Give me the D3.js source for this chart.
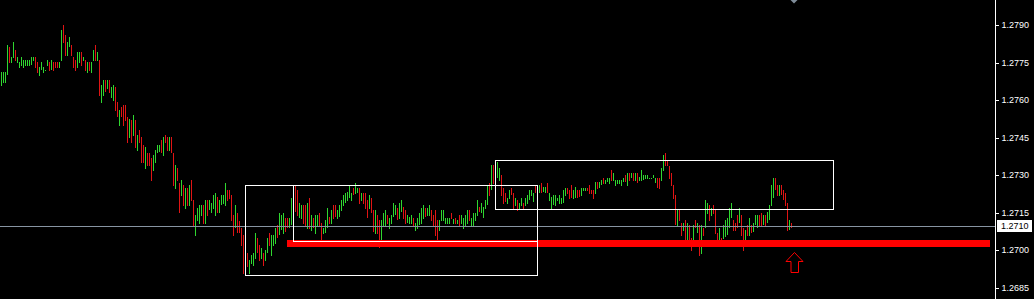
<!DOCTYPE html>
<html>
<head>
<meta charset="utf-8">
<script src="https://cdn.jsdelivr.net/npm/d3@7"></script>
<style>
  body { margin: 0; background: #000; }
  svg { display: block; }
</style>
</head>
<body>
<div id="chart"></div>
<script>
"use strict";

// bar data, oldest first (high / low / 1 = up bar, 0 = down bar)
var highs = [
  1.27713,1.27713,1.27713,1.27820,1.27811,1.27773,1.27832,1.27800,1.27771,1.27753,
  1.27771,1.27760,1.27760,1.27760,1.27760,1.27771,1.27771,1.27771,1.27753,1.27733,
  1.27753,1.27733,1.27720,1.27760,1.27753,1.27760,1.27753,1.27753,1.27753,1.27753,
  1.27880,1.27900,1.27860,1.27832,1.27853,1.27820,1.27771,1.27760,1.27791,1.27791,
  1.27791,1.27771,1.27760,1.27753,1.27753,1.27753,1.27800,1.27820,1.27791,1.27760,
  1.27660,1.27680,1.27680,1.27680,1.27680,1.27653,1.27660,1.27653,1.27593,1.27560,
  1.27571,1.27580,1.27580,1.27533,1.27523,1.27520,1.27540,1.27520,1.27460,1.27480,
  1.27451,1.27420,1.27413,1.27389,1.27389,1.27367,1.27380,1.27400,1.27420,1.27420,
  1.27440,1.27451,1.27460,1.27451,1.27451,1.27451,1.27387,1.27340,1.27327,1.27267,
  1.27280,1.27260,1.27247,1.27247,1.27260,1.27280,1.27200,1.27140,1.27167,1.27180,
  1.27180,1.27180,1.27200,1.27200,1.27200,1.27187,1.27220,1.27227,1.27213,1.27200,
  1.27220,1.27220,1.27267,1.27240,1.27240,1.27220,1.27140,1.27180,1.27147,1.27117,
  1.27087,1.27060,1.27000,1.26987,1.26960,1.26980,1.26987,1.27067,1.27047,1.27020,
  1.27007,1.26987,1.27000,1.27047,1.27067,1.27060,1.27060,1.27087,1.27100,1.27147,
  1.27140,1.27147,1.27127,1.27127,1.27127,1.27207,1.27240,1.27256,1.27240,1.27187,
  1.27180,1.27180,1.27180,1.27187,1.27207,1.27140,1.27127,1.27140,1.27140,1.27149,
  1.27107,1.27087,1.27120,1.27167,1.27133,1.27160,1.27180,1.27180,1.27160,1.27180,
  1.27200,1.27220,1.27227,1.27233,1.27260,1.27229,1.27247,1.27269,1.27247,1.27247,
  1.27229,1.27229,1.27227,1.27200,1.27220,1.27207,1.27160,1.27160,1.27140,1.27120,
  1.27120,1.27149,1.27160,1.27140,1.27127,1.27140,1.27189,1.27180,1.27167,1.27189,
  1.27200,1.27171,1.27160,1.27140,1.27133,1.27140,1.27127,1.27107,1.27127,1.27149,
  1.27167,1.27180,1.27167,1.27167,1.27180,1.27160,1.27140,1.27160,1.27120,1.27120,
  1.27160,1.27160,1.27127,1.27127,1.27127,1.27147,1.27123,1.27127,1.27120,1.27140,
  1.27140,1.27127,1.27140,1.27160,1.27160,1.27127,1.27149,1.27149,1.27200,1.27171,
  1.27187,1.27171,1.27200,1.27260,1.27269,1.27340,1.27340,1.27360,1.27353,1.27327,
  1.27300,1.27247,1.27229,1.27207,1.27240,1.27247,1.27229,1.27207,1.27200,1.27189,
  1.27207,1.27189,1.27207,1.27220,1.27240,1.27240,1.27229,1.27257,1.27260,1.27260,
  1.27267,1.27253,1.27253,1.27267,1.27227,1.27213,1.27220,1.27220,1.27209,1.27220,
  1.27209,1.27240,1.27249,1.27247,1.27240,1.27260,1.27240,1.27253,1.27240,1.27240,
  1.27247,1.27249,1.27249,1.27249,1.27260,1.27240,1.27240,1.27271,1.27271,1.27271,
  1.27280,1.27287,1.27280,1.27287,1.27287,1.27320,1.27307,1.27280,1.27280,1.27280,
  1.27280,1.27287,1.27300,1.27307,1.27307,1.27307,1.27307,1.27307,1.27307,1.27293,
  1.27320,1.27300,1.27300,1.27300,1.27289,1.27289,1.27300,1.27289,1.27287,1.27289,
  1.27329,1.27380,1.27387,1.27360,1.27337,1.27307,1.27260,1.27220,1.27160,1.27160,
  1.27107,1.27107,1.27120,1.27107,1.27100,1.27047,1.27100,1.27120,1.27107,1.27100,
  1.27100,1.27087,1.27200,1.27187,1.27180,1.27167,1.27180,1.27160,1.27067,1.27087,
  1.27047,1.27100,1.27120,1.27127,1.27167,1.27187,1.27120,1.27107,1.27140,1.27167,
  1.27140,1.27087,1.27080,1.27100,1.27127,1.27100,1.27107,1.27140,1.27140,1.27140,
  1.27147,1.27140,1.27140,1.27153,1.27180,1.27260,1.27288,1.27289,1.27260,1.27260,
  1.27260,1.27240,1.27227,1.27187,1.27120,1.27107
];
var lows = [
  1.27657,1.27667,1.27669,1.27700,1.27749,1.27749,1.27767,1.27757,1.27749,1.27729,
  1.27736,1.27729,1.27736,1.27736,1.27736,1.27740,1.27757,1.27729,1.27709,1.27697,
  1.27720,1.27709,1.27716,1.27736,1.27717,1.27720,1.27717,1.27729,1.27729,1.27729,
  1.27757,1.27827,1.27777,1.27777,1.27813,1.27777,1.27729,1.27717,1.27729,1.27749,
  1.27736,1.27757,1.27717,1.27709,1.27717,1.27709,1.27757,1.27757,1.27757,1.27616,
  1.27589,1.27616,1.27633,1.27643,1.27629,1.27607,1.27596,1.27557,1.27531,1.27496,
  1.27533,1.27496,1.27516,1.27429,1.27447,1.27429,1.27456,1.27409,1.27397,1.27429,
  1.27347,1.27347,1.27324,1.27337,1.27337,1.27276,1.27317,1.27347,1.27387,1.27393,
  1.27387,1.27377,1.27429,1.27397,1.27397,1.27387,1.27257,1.27244,1.27276,1.27147,
  1.27216,1.27176,1.27164,1.27176,1.27176,1.27196,1.27096,1.27056,1.27117,1.27104,
  1.27136,1.27104,1.27104,1.27136,1.27160,1.27147,1.27164,1.27136,1.27147,1.27147,
  1.27180,1.27183,1.27176,1.27197,1.27203,1.27117,1.27056,1.27087,1.27067,1.27067,
  1.27017,1.26904,1.26920,1.26933,1.26904,1.26944,1.26937,1.26963,1.26987,1.26957,
  1.26963,1.26937,1.26957,1.26987,1.27016,1.26976,1.27016,1.27024,1.27047,1.27060,
  1.27080,1.27064,1.27073,1.27087,1.27087,1.27100,1.27180,1.27153,1.27137,1.27127,
  1.27123,1.27104,1.27093,1.27084,1.27083,1.27077,1.27087,1.27064,1.27096,1.27096,
  1.27037,1.27064,1.27069,1.27087,1.27104,1.27104,1.27123,1.27133,1.27123,1.27133,
  1.27157,1.27176,1.27187,1.27197,1.27207,1.27197,1.27220,1.27224,1.27227,1.27184,
  1.27197,1.27184,1.27163,1.27127,1.27163,1.27147,1.27073,1.27064,1.27064,1.27007,
  1.27040,1.27096,1.27096,1.27104,1.27083,1.27104,1.27131,1.27140,1.27120,1.27123,
  1.27153,1.27123,1.27104,1.27109,1.27104,1.27104,1.27096,1.27077,1.27083,1.27100,
  1.27104,1.27123,1.27133,1.27136,1.27136,1.27117,1.27096,1.27056,1.27037,1.27077,
  1.27117,1.27117,1.27104,1.27104,1.27104,1.27123,1.27104,1.27104,1.27104,1.27096,
  1.27104,1.27083,1.27096,1.27104,1.27117,1.27096,1.27096,1.27117,1.27136,1.27153,
  1.27147,1.27127,1.27163,1.27180,1.27216,1.27240,1.27264,1.27300,1.27287,1.27277,
  1.27216,1.27184,1.27193,1.27184,1.27203,1.27220,1.27163,1.27176,1.27157,1.27163,
  1.27176,1.27163,1.27176,1.27184,1.27200,1.27216,1.27193,1.27227,1.27228,1.27227,
  1.27227,1.27233,1.27227,1.27227,1.27196,1.27164,1.27180,1.27177,1.27196,1.27183,
  1.27183,1.27187,1.27217,1.27223,1.27204,1.27207,1.27204,1.27209,1.27209,1.27213,
  1.27217,1.27236,1.27236,1.27236,1.27223,1.27223,1.27204,1.27223,1.27244,1.27247,
  1.27260,1.27263,1.27263,1.27271,1.27263,1.27276,1.27276,1.27257,1.27263,1.27263,
  1.27257,1.27271,1.27271,1.27257,1.27276,1.27289,1.27276,1.27276,1.27267,1.27276,
  1.27276,1.27280,1.27284,1.27284,1.27284,1.27284,1.27287,1.27267,1.27247,1.27244,
  1.27276,1.27316,1.27337,1.27337,1.27284,1.27257,1.27204,1.27100,1.27096,1.27116,
  1.27057,1.27076,1.27036,1.27040,1.27036,1.26996,1.27017,1.27087,1.27067,1.26977,
  1.26983,1.27057,1.27087,1.27143,1.27116,1.27137,1.27143,1.27063,1.27027,1.27023,
  1.27036,1.27044,1.27053,1.27060,1.27087,1.27127,1.27076,1.27076,1.27087,1.27107,
  1.27057,1.26996,1.27017,1.27057,1.27057,1.27067,1.27071,1.27100,1.27089,1.27097,
  1.27097,1.27100,1.27097,1.27107,1.27120,1.27176,1.27208,1.27240,1.27217,1.27217,
  1.27220,1.27200,1.27177,1.27076,1.27080,1.27087
];
var ups = [
  1,1,1,1,0,1,1,0,1,1, 1,1,1,1,1,1,1,0,0,1, 1,1,1,1,0,1,0,0,0,1,
  1,0,0,1,1,0,0,0,1,1, 0,1,0,1,0,1,1,0,1,0, 1,1,0,1,0,1,1,0,0,1,
  0,0,0,0,1,0,1,0,1,0, 0,0,1,0,0,0,1,1,1,1, 0,1,0,0,1,0,0,1,0,0,
  1,0,1,0,1,0,0,1,1,1, 1,0,1,0,1,1,1,1,0,1, 1,1,1,0,0,0,0,1,0,0,
  0,0,0,0,1,1,1,1,0,0, 1,0,1,1,0,1,1,1,0,1, 1,1,0,0,1,1,1,0,0,1,
  1,0,0,1,0,1,0,1,1,0, 0,1,1,1,0,1,0,0,1,1, 1,1,1,1,1,1,0,1,1,0,
  1,0,0,0,1,0,0,1,0,0, 1,1,1,0,1,1,1,1,0,1, 1,0,0,1,1,1,0,1,1,1,
  1,1,0,1,1,0,0,0,0,1, 1,1,1,1,1,0,1,0,1,0, 1,1,1,1,0,1,1,1,1,0,
  1,1,1,1,0,1,0,1,1,1, 0,0,0,1,1,0,0,1,0,1, 1,0,1,1,1,1,1,0,1,1,
  0,1,1,0,1,1,1,1,1,1, 1,1,1,0,0,0,1,1,0,0, 1,1,1,0,0,0,0,1,0,1,
  1,0,1,1,1,0,1,1,1,1, 1,1,0,1,0,1,0,1,0,1, 1,1,1,1,1,1,1,1,0,0,
  1,1,0,0,0,0,0,0,1,0, 0,1,0,1,0,0,1,0,1,0, 1,0,1,1,0,1,0,0,0,1,
  0,1,1,1,1,1,0,0,0,1, 0,0,1,0,1,0,1,1,1,0, 0,1,0,1,1,1,1,0,0,1,
  0,0,0,0,1,0
];

// chart objects: rectangles (first bar, last bar, top price, bottom price)
var boxes = [
  [122, 268, 1.27260, 1.26900],
  [146, 268, 1.27260, 1.27036],
  [247, 416, 1.27360, 1.27164]
];
var levelStart = 143;
var levelBand = [1.27040, 1.27012];
var arrowBar = 397;
var arrowPrice = 1.26992;
var bid = 1.27096;
var priceTicks = [1.2790, 1.2775, 1.2760, 1.2745, 1.2730, 1.2715, 1.2700, 1.2685];

var width = 1034;
var height = 299;
var plotRight = 995;

var svg = d3.select("#chart").append("svg")
  .attr("width", width).attr("height", height)
  .style("background", "#000");

var x = d3.scaleLinear().domain([0, highs.length - 1]).range([1, 791]);
var y = d3.scaleLinear().domain([1.2790, 1.2685]).range([25, 287.5]);

// bars
svg.append("g").attr("shape-rendering", "crispEdges")
  .selectAll("rect").data(highs).enter().append("rect")
  .attr("x", function (d, i) { return x(i); })
  .attr("y", function (d) { return Math.round(y(d)); })
  .attr("width", 1)
  .attr("height", function (d, i) { return Math.max(1, Math.round(y(lows[i])) - Math.round(y(d))); })
  .style("fill", function (d, i) { return ups[i] ? "#2fd62f" : "#e01414"; });

// bid line
var by = Math.round(y(bid)) + 0.5;
svg.append("line").attr("x1", 0).attr("x2", plotRight).attr("y1", by).attr("y2", by)
  .style("stroke", "#8794a2").style("stroke-width", 1);

// support band
svg.append("rect")
  .attr("x", x(levelStart)).attr("y", Math.round(y(levelBand[0])))
  .attr("width", 990 - x(levelStart))
  .attr("height", Math.round(y(levelBand[1])) - Math.round(y(levelBand[0])))
  .style("fill", "#ff0000");

// rectangles
svg.append("g").selectAll("rect").data(boxes).enter().append("rect")
  .attr("x", function (d) { return x(d[0]) + 0.5; })
  .attr("y", function (d) { return Math.round(y(d[2])) + 0.5; })
  .attr("width", function (d) { return x(d[1]) - x(d[0]); })
  .attr("height", function (d) { return Math.round(y(d[3])) - Math.round(y(d[2])); })
  .style("fill", "none").style("stroke", "#fff").style("stroke-width", 1);

// up arrow
var ax = x(arrowBar) - 0.5, ay = Math.round(y(arrowPrice)) + 0.5;
svg.append("path")
  .attr("d", "M" + ax + "," + ay + "L" + (ax + 8.5) + "," + (ay + 9) + "L" + (ax + 4) + "," + (ay + 9) +
    "L" + (ax + 4) + "," + (ay + 20) + "L" + (ax - 3.5) + "," + (ay + 20) + "L" + (ax - 3.5) + "," + (ay + 9) +
    "L" + (ax - 8.5) + "," + (ay + 9) + "Z")
  .style("fill", "none").style("stroke", "#ff0000").style("stroke-width", 1);

// chart shift marker
var sx = x(arrowBar - 0.5);
svg.append("path")
  .attr("d", "M" + (sx - 3.5) + ",0L" + (sx + 3.5) + ",0L" + sx + ",3.5Z")
  .style("fill", "#7f8c99");

// price axis
svg.append("line").attr("x1", plotRight + 0.5).attr("x2", plotRight + 0.5).attr("y1", 0).attr("y2", height)
  .style("stroke", "#fff");

var axis = svg.append("g").attr("transform", "translate(" + (plotRight + 0.5) + ",0)")
  .call(d3.axisRight(y).tickValues(priceTicks).tickSize(3).tickPadding(3).tickFormat(d3.format(".4f")));
axis.select(".domain").remove();
axis.selectAll("line").style("stroke", "#fff").attr("shape-rendering", "crispEdges");
axis.selectAll("text").style("fill", "#fff").style("font-family", "Liberation Sans, Arial, sans-serif")
  .style("font-size", "9px");

// bid label
svg.append("rect").attr("x", 997).attr("y", by - 6.5).attr("width", 35).attr("height", 12)
  .style("fill", "#fff");
svg.append("text").attr("x", 1001).attr("y", by).attr("dy", "0.33em")
  .style("font-family", "Liberation Sans, Arial, sans-serif").style("font-size", "9px").style("fill", "#000")
  .text(d3.format(".4f")(bid));
</script>
</body>
</html>
